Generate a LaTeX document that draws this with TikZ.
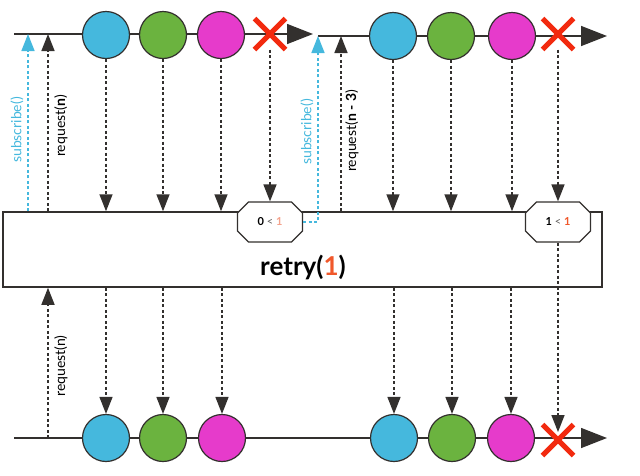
\documentclass[tikz,border=0pt]{standalone}
\usepackage{fontspec}
\setmainfont{Lato}
\usetikzlibrary{arrows.meta, shapes.misc, positioning, calc}
\definecolor{mblue}{HTML}{45B8DD}
\definecolor{mgreen}{HTML}{6BB33F}
\definecolor{mpink}{HTML}{E63BCB}
\definecolor{mred}{HTML}{F22A0F}
\definecolor{mdark}{HTML}{33302E}
\definecolor{morange}{HTML}{F0582B}
\definecolor{msalmon}{HTML}{F4A28C}
\tikzstyle{marble}   = [circle, draw=mdark, line width=1.2pt, minimum size=47pt, inner sep=0pt]
\tikzstyle{errmark}  = [cross out, draw=mred, line width=5pt, minimum size=26pt, inner sep=0pt]
\tikzstyle{timeline} = [mdark, line width=1.5pt, -{Triangle[length=26pt,width=20pt]}]
\tikzstyle{flow}     = [mdark, line width=1.5pt, dash pattern=on 3pt off 2.5pt,
                        -{Triangle[length=17pt,width=13pt]}]
\tikzstyle{subflow}  = [flow, mblue]
\tikzstyle{guard}    = [chamfered rectangle, chamfered rectangle xsep=7pt,
                        chamfered rectangle ysep=7pt, draw=mdark, line width=1.2pt,
                        fill=white, minimum width=65pt, minimum height=40pt,
                        inner sep=0pt, font=\fontsize{11}{12}\selectfont]
\tikzstyle{lbl}      = [rotate=90, inner sep=0pt, font=\fontsize{14}{16}\selectfont]

\begin{document}
\begin{tikzpicture}[x=1pt, y=-1pt]
  \useasboundingbox (0,0) rectangle (640,475);

  % --- Operator box ---
  \node (op) [rectangle, draw=mdark, line width=1.5pt, minimum width=599pt,
              minimum height=75pt, inner sep=0pt] at (302.5,249.5) {};
  \node (optxt) at (303,267) {\fontsize{26}{28}\selectfont\bfseries retry(\textcolor{morange}{1})};

  % --- Timelines ---
  \coordinate (t1s) at (14,34);  \coordinate (t1e) at (313,34);
  \coordinate (t2s) at (318,36); \coordinate (t2e) at (607,36);
  \coordinate (t3s) at (14,438); \coordinate (t3e) at (607,438);
  \draw[timeline] (t1s) -- (t1e);
  \draw[timeline] (t2s) -- (t2e);
  \draw[timeline] (t3s) -- (t3e);

  % --- First subscription ---
  \node (a1) [marble, fill=mblue]  at (106,35) {};
  \node (a2) [marble, fill=mgreen] at (163,35) {};
  \node (a3) [marble, fill=mpink]  at (221,35) {};
  \node (ax) [errmark] at (270,34) {};

  % --- Second subscription ---
  \node (b1) [marble, fill=mblue]  at (393,36) {};
  \node (b2) [marble, fill=mgreen] at (451,36) {};
  \node (b3) [marble, fill=mpink]  at (512,36) {};
  \node (bx) [errmark] at (558,34) {};

  % --- Output ---
  \node (c1) [marble, fill=mblue]  at (106,438) {};
  \node (c2) [marble, fill=mgreen] at (163,438) {};
  \node (c3) [marble, fill=mpink]  at (222,438) {};
  \node (c4) [marble, fill=mblue]  at (394,438) {};
  \node (c5) [marble, fill=mgreen] at (452,438) {};
  \node (c6) [marble, fill=mpink]  at (511,438) {};
  \node (cx) [errmark] at (558,440) {};

  % --- Retry guards ---
  \node (g1) [guard] at (270,222) {\textbf{0} \textcolor{mdark!80}{<} \textcolor{msalmon}{\textbf{1}}};
  \node (g2) [guard] at (558,222) {\textbf{1} \textcolor{mdark!80}{<} \textcolor{morange}{\textbf{1}}};

  % --- Labels ---
  \node (sub1) [lbl, text=mblue] at (17,130) {subscribe()};
  \node (req1) [lbl] at (61,126) {request(\textbf{n})};
  \node (sub2) [lbl, text=mblue] at (307,132) {subscribe()};
  \node (req2) [lbl] at (352,131) {request(\textbf{n - 3})};
  \node (req3) [lbl] at (61,366) {request(n)};

  % Arrows
  \coordinate (s1) at (28,34);
  \coordinate (r1) at (48,34);
  \coordinate (r2) at (341,36);
  \coordinate (r3) at (48,438);
  \draw[subflow] (s1 |- op.north) -- (s1);
  \draw[flow] (r1 |- op.north) -- (r1);
  \draw[subflow] (g1.east) -| (t2s);
  \draw[flow] (r2 |- op.north) -- (r2);
  \draw[flow] (r3) -- (r3 |- op.south);

  \foreach \m in {a1,a2,a3,b1,b2,b3}
    \draw[flow] (\m.south) -- (\m.south |- op.north);
  \draw[flow] (ax.south) -- (g1.north);
  \draw[flow] (bx.south) -- (g2.north);

  \foreach \m in {c1,c2,c3,c4,c5,c6}
    \draw[flow] (\m.north |- op.south) -- (\m.north);
  \draw[flow] (g2.south) -- ([yshift=8pt]cx.center);

\end{tikzpicture}
\end{document}
